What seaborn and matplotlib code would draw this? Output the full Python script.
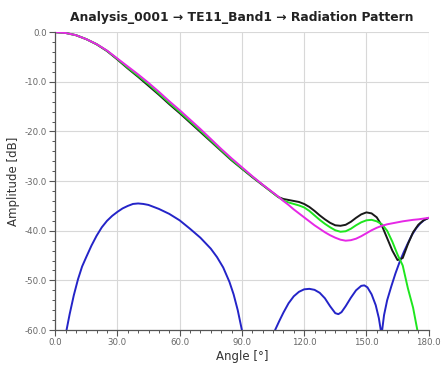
import matplotlib
matplotlib.use("Agg")
import matplotlib.pyplot as plt
from matplotlib.ticker import MultipleLocator, FormatStrFormatter
import seaborn as sns

# co-polar curves share one angle grid
angle = [0, 5, 10, 15, 20, 25, 30, 35, 40, 45, 50, 55, 60, 65, 70, 75, 80, 85, 90, 95, 100,
         105, 107.5, 110, 112.5, 115, 117.5, 120, 122.5, 125, 127.5, 130, 132.5, 135, 137.5,
         140, 142.5, 145, 147.5, 150, 152.5, 155, 157.5, 160, 162.5, 165, 167.5, 170, 172.5,
         175, 177.5, 180]

magenta_db = [0.0, -0.15, -0.6, -1.4, -2.4, -3.7, -5.3, -6.9, -8.5, -10.2, -12.0, -13.9, -15.7,
              -17.6, -19.5, -21.5, -23.5, -25.4, -27.2, -29.0, -30.7,
              -32.3, -33.1, -34.0, -34.8, -35.7, -36.5, -37.3, -38.1, -38.9, -39.6, -40.3, -40.9,
              -41.4, -41.8, -42.0, -41.9, -41.6, -41.1, -40.5, -39.9, -39.4, -39.0, -38.7, -38.5,
              -38.3, -38.1, -37.95, -37.8, -37.7, -37.55, -37.4]

black_db = [0.0, -0.15, -0.6, -1.4, -2.45, -3.8, -5.5, -7.3, -9.0, -10.8, -12.6, -14.5, -16.3,
            -18.2, -20.1, -22.0, -23.9, -25.8, -27.5, -29.2, -30.8,
            -32.4, -33.2, -33.6, -33.8, -34.0, -34.2, -34.6, -35.2, -36.0, -36.9, -37.7, -38.4,
            -38.9, -39.0, -38.8, -38.2, -37.4, -36.7, -36.3, -36.5, -37.3, -39.0, -41.5, -44.0,
            -45.9, -45.5, -42.7, -40.3, -38.8, -37.9, -37.4]

green_db = [0.0, -0.15, -0.6, -1.4, -2.4, -3.75, -5.4, -7.15, -8.8, -10.5, -12.35, -14.25, -16.05,
            -17.95, -19.85, -21.8, -23.75, -25.65, -27.4, -29.1, -30.75,
            -32.4, -33.2, -33.9, -34.3, -34.6, -34.9, -35.3, -36.0, -36.9, -37.8, -38.6, -39.3,
            -39.9, -40.2, -40.1, -39.6, -38.9, -38.3, -37.9, -37.8, -38.1, -38.7, -40.0, -42.2,
            -44.8, -47.0, -51.6, -55.5, -61.0, None, None]

# cross-polar (blue), two visible lobes above -60 dB
blue_angle_a = [5.5, 7, 9, 11, 13, 15, 17.5, 20, 22.5, 25, 27.5, 30, 32.5, 35, 37.5, 40, 42.5, 45,
                47.5, 50, 55, 60, 65, 70, 75, 78, 81, 84, 86, 88, 90]
blue_db_a = [-60, -56.8, -53, -49.8, -47.2, -45.3, -43, -41, -39.3, -38, -37, -36.2, -35.5, -35,
             -34.6, -34.5, -34.6, -34.8, -35.2, -35.6, -36.6, -37.9, -39.6, -41.4, -43.6, -45.3,
             -47.4, -50.3, -52.8, -56.0, -60]

blue_angle_b = [106, 108, 110, 112.5, 115, 117.5, 120, 122.5, 125, 127.5, 130, 132.5, 135, 136.5,
                138, 140, 142.5, 145, 147.5, 149, 150.5, 152.5, 154.5, 156, 157.3, 158.5, 160,
                162, 164, 166, 168, 170, 172, 174, 176, 178, 180]
blue_db_b = [-60, -58.2, -56.5, -54.6, -53.2, -52.3, -51.8, -51.7, -51.9, -52.5, -53.6, -55.2,
             -56.6, -56.8, -56.4, -55.2, -53.5, -52.0, -51.1, -51.0, -51.4, -52.8, -55.0, -57.6,
             -61.0, -57.0, -54.0, -51.2, -48.6, -46.3, -44.3, -42.5, -40.8, -39.5, -38.5, -37.8,
             -37.4]

sns.set_style("white")
plt.rcParams['font.family'] = ['DejaVu Sans']

fig = plt.figure(figsize=(4.41, 3.70), dpi=100)
ax = fig.add_axes([0.125, 0.108, 0.847, 0.805])

green_a = [a for a, v in zip(angle, green_db) if v is not None]
green_v = [v for v in green_db if v is not None]

sns.lineplot(x=blue_angle_a, y=blue_db_a, ax=ax, color="#2424c8", lw=1.4, sort=False)
sns.lineplot(x=blue_angle_b, y=blue_db_b, ax=ax, color="#2424c8", lw=1.4, sort=False)
sns.lineplot(x=angle, y=black_db, ax=ax, color="#1a1a1a", lw=1.4, sort=False)
sns.lineplot(x=green_a, y=green_v, ax=ax, color="#1ee61e", lw=1.4, sort=False)
sns.lineplot(x=angle, y=magenta_db, ax=ax, color="#e628e6", lw=1.4, sort=False)

ax.set_xlim(0, 180)
ax.set_ylim(-60, 0)
ax.xaxis.set_major_locator(MultipleLocator(30))
ax.xaxis.set_minor_locator(MultipleLocator(5))
ax.yaxis.set_major_locator(MultipleLocator(10))
ax.yaxis.set_minor_locator(MultipleLocator(2))
ax.xaxis.set_major_formatter(FormatStrFormatter("%.1f"))
ax.yaxis.set_major_formatter(FormatStrFormatter("%.1f"))

ax.grid(True, which="major", color="#d8d8d8", lw=0.8)
for s in ["top", "right"]:
    ax.spines[s].set_visible(False)
for s in ["left", "bottom"]:
    ax.spines[s].set_color("#555555")
    ax.spines[s].set_linewidth(0.9)

ax.tick_params(which="major", direction="out", length=4, width=0.8, color="#555555",
               labelsize=6.2, labelcolor="#666666", pad=2, left=True, bottom=True)
ax.tick_params(which="minor", direction="out", length=2, width=0.7, color="#555555",
               left=True, bottom=True)

ax.set_xlabel("Angle [°]", fontsize=8.5, color="#333333", labelpad=2)
ax.set_ylabel("Amplitude [dB]", fontsize=8.5, color="#333333", labelpad=3)
ax.set_title("Analysis_0001 → TE11_Band1 → Radiation Pattern", fontsize=8.9,
             fontweight="bold", color="#222222", pad=8)

fig.savefig("out.png", dpi=100)
